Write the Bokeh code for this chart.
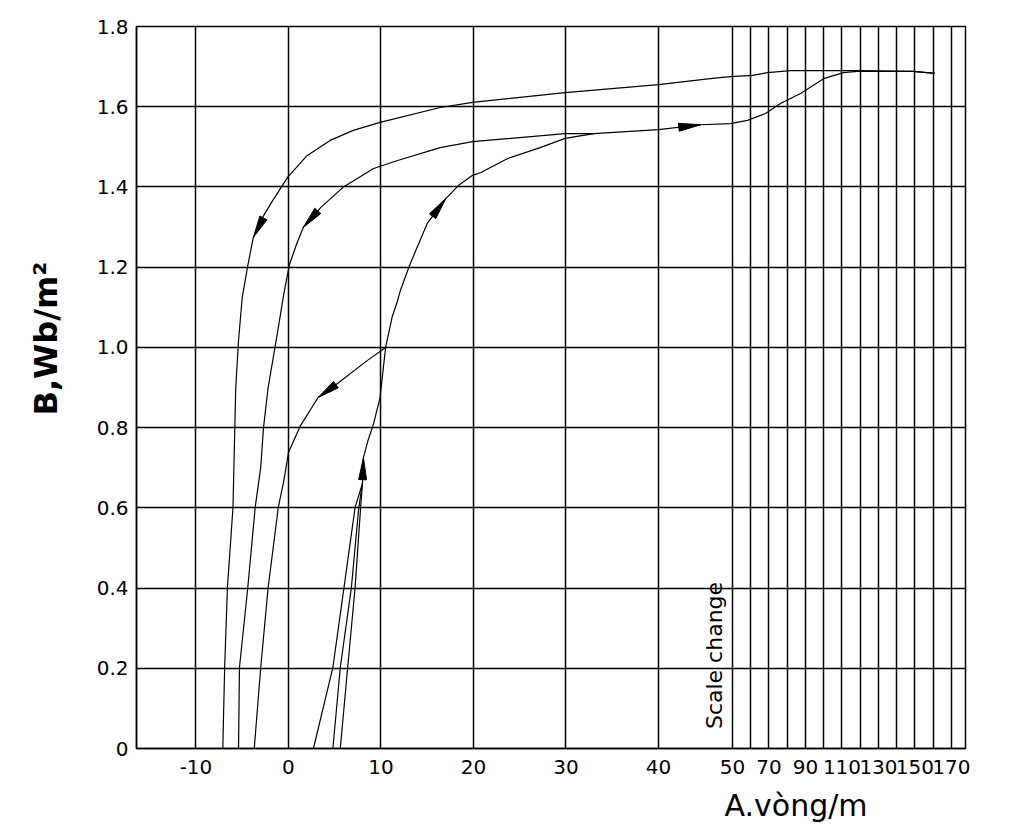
import numpy as np
from bokeh.plotting import figure
from bokeh.models import Range1d, FixedTicker, CustomJSTickFormatter, Label, Title
from bokeh.embed import file_html
from bokeh.resources import INLINE

# ---------------- data (H in A.vong/m, B in Wb/m^2) ----------------
outer_H = [161, 149, 118.5, 100, 81.8, 69.2, 61.0, 49.7, 47.0, 40.0, 29.9, 19.9, 16.4, 9.9, 7.0, 4.5,
           2.0, -0.1, -1.9, -2.8, -3.8, -4.4, -5.0, -5.4, -5.7, -5.9, -6.0, -6.6, -6.9, -7.1]
outer_B = [1.683, 1.688, 1.690, 1.690, 1.690, 1.685, 1.678, 1.675, 1.670, 1.655, 1.635, 1.611, 1.598,
           1.561, 1.541, 1.516, 1.478, 1.424, 1.359, 1.324, 1.274, 1.204, 1.124, 1.017, 0.900, 0.701,
           0.601, 0.401, 0.202, 0.0]

middle_H = [33.0, 29.9, 19.9, 16.4, 11.8, 9.2, 5.9, 3.5, 1.6, 0.9, 0.1, -0.5, -1.2, -2.2, -2.7, -3.0,
            -3.6, -4.4, -5.3, -5.4]
middle_B = [1.533, 1.533, 1.513, 1.498, 1.466, 1.446, 1.399, 1.349, 1.299, 1.259, 1.206, 1.134, 1.035,
            0.900, 0.800, 0.701, 0.601, 0.401, 0.202, 0.0]

minor_H = [10.5, 8.5, 5.3, 3.2, 1.3, 0.0, -0.5, -1.1, -2.2, -3.0, -3.7]
minor_B = [1.0, 0.967, 0.910, 0.875, 0.805, 0.738, 0.668, 0.601, 0.401, 0.202, 0.0]

rise_B = [0.0, 0.202, 0.401, 0.601, 0.661]
rise_a_H = [2.7, 4.8, 6.0, 7.2, 8.0]
rise_b_H = [4.8, 5.6, 6.8, 7.6, 8.0]
rise_c_H = [5.6, 6.4, 7.2, 7.8, 8.0]

ascend_H = [8.0, 8.1, 8.6, 9.2, 9.9, 10.5, 11.2, 11.8, 12.1, 13.0, 13.9, 15.0, 17.0, 18.4, 19.9, 20.8,
            23.7, 27.2, 29.9, 33.0, 40.0, 45.7, 49.7, 58.2, 68.1, 76.3, 87.3, 99.9, 110.8, 118.5, 149, 161]
ascend_B = [0.661, 0.725, 0.768, 0.81, 0.875, 1.0, 1.075, 1.117, 1.142, 1.199, 1.249, 1.309, 1.371,
            1.404, 1.429, 1.436, 1.471, 1.498, 1.521, 1.533, 1.543, 1.555, 1.558, 1.566, 1.583, 1.608,
            1.633, 1.670, 1.685, 1.688, 1.688, 1.683]

# arrows: (curve, tail index, tip index)
arrow_specs = [("outer", 18, 20), ("middle", 7, 8), ("minor", 2, 3),
               ("ascend", 0, 1), ("ascend", 11, 12), ("ascend", 20, 21)]

x_tick_H = [-10, 0, 10, 20, 30, 40, 50, 70, 90, 110, 130, 150, 170]
x_tick_labels = ["-10", "0", "10", "20", "30", "40", "50", "70", "90", "110", "130", "150", "170"]
x_grid_H = [-10, 0, 10, 20, 30, 40, 50, 60, 70, 80, 90, 100, 110, 120, 130, 140, 150, 160, 170]
y_ticks = [0, 0.2, 0.4, 0.6, 0.8, 1.0, 1.2, 1.4, 1.6, 1.8]
y_tick_labels = ["0", "0.2", "0.4", "0.6", "0.8", "1.0", "1.2", "1.4", "1.6", "1.8"]

x_title = "A.vòng/m"
y_title = "B,Wb/m²"
scale_note = "Scale change"

# ---------------- axis scale (scale change) ----------------
BREAK_H = [-100, 40, 50, 300]
BREAK_U = [-100, 40, 48, 48 + 250 * 0.19726]


def to_u(h):
    return np.interp(np.asarray(h, dtype=float), BREAK_H, BREAK_U)


X0, X1 = float(to_u(-16.43)), float(to_u(177.7))
Y0, Y1 = 0.0, 1.8

ML, MR, MT, MB = 136, 40, 26, 89
FW, FH = 829, 722
SX = FW / (X1 - X0)
SY = FH / (Y1 - Y0)

p = figure(frame_width=FW, frame_height=FH, output_backend="svg", toolbar_location=None,
           x_range=Range1d(X0, X1), y_range=Range1d(Y0, Y1),
           min_border_left=ML, min_border_right=MR, min_border_top=MT, min_border_bottom=MB,
           background_fill_color="white", border_fill_color="white")
p.outline_line_color = "black"
p.outline_line_width = 1.5

# grid
p.xgrid.ticker = FixedTicker(ticks=[float(v) for v in to_u(x_grid_H)])
p.ygrid.ticker = FixedTicker(ticks=y_ticks)
for g in (p.xgrid, p.ygrid):
    g.grid_line_color = "black"
    g.grid_line_width = 1.5
    g.grid_line_alpha = 1.0

# axes
tick_u = [float(v) for v in to_u(x_tick_H)]
p.xaxis.ticker = FixedTicker(ticks=tick_u)
p.xaxis.formatter = CustomJSTickFormatter(args=dict(us=tick_u, labels=x_tick_labels), code="""
let b = 0;
for (let i = 0; i < us.length; i++) { if (Math.abs(us[i] - tick) < Math.abs(us[b] - tick)) b = i; }
return labels[b];
""")
p.yaxis.ticker = FixedTicker(ticks=y_ticks)
p.yaxis.formatter = CustomJSTickFormatter(args=dict(vs=y_ticks, labels=y_tick_labels), code="""
let b = 0;
for (let i = 0; i < vs.length; i++) { if (Math.abs(vs[i] - tick) < Math.abs(vs[b] - tick)) b = i; }
return labels[b];
""")
for ax in (p.xaxis, p.yaxis):
    ax.major_tick_in = 0
    ax.major_tick_out = 0
    ax.minor_tick_in = 0
    ax.minor_tick_out = 0
    ax.axis_line_color = "black"
    ax.axis_line_width = 1.5
    ax.major_label_text_font = "DejaVu Sans"
    ax.major_label_text_font_size = "20px"
    ax.major_label_text_color = "black"
p.xaxis.major_label_standoff = 11
p.yaxis.major_label_standoff = 8

# y title (left side, shifted upward and outward as in the reference)
p.add_layout(Title(text=y_title, align="left", offset=333, standoff=53, vertical_align="top",
                   text_font="DejaVu Sans", text_font_size="32px",
                   text_font_style="bold", text_color="black"), "left")

# x title, offset toward the right as in the reference
p.add_layout(Title(text=x_title, align="left", offset=588, standoff=19, vertical_align="bottom",
                   text_font="DejaVu Sans", text_font_size="30px",
                   text_font_style="normal", text_color="black"), "below")

# curves
curves = {
    "outer": (outer_H, outer_B),
    "middle": (middle_H, middle_B),
    "minor": (minor_H, minor_B),
    "ascend": (ascend_H, ascend_B),
}
for hs, bs in list(curves.values()) + [(rise_a_H, rise_B), (rise_b_H, rise_B), (rise_c_H, rise_B)]:
    p.line(x=to_u(hs), y=bs, line_color="black", line_width=1.2)

# arrowheads (long thin triangles)
HEAD_L, HEAD_W = 22.0, 8.0
xs_list, ys_list = [], []
for name, i0, i1 in arrow_specs:
    hs, bs = curves[name]
    tx, ty = float(to_u(hs[i1])) * SX, bs[i1] * SY
    sx0, sy0 = float(to_u(hs[i0])) * SX, bs[i0] * SY
    d = np.array([tx - sx0, ty - sy0])
    d = d / np.hypot(*d)
    n = np.array([-d[1], d[0]])
    base = np.array([tx, ty]) - HEAD_L * d
    pts = [np.array([tx, ty]), base + n * HEAD_W / 2, base - n * HEAD_W / 2]
    xs_list.append([pt[0] / SX for pt in pts])
    ys_list.append([pt[1] / SY for pt in pts])
p.patches(xs=xs_list, ys=ys_list, fill_color="black", line_color="black", line_width=1)

# "Scale change" note inside the frame (canvas position 714, 655)
p.add_layout(Label(x=X0 + (714 - ML) / SX, y=Y1 - (655 - MT) / SY, text=scale_note,
                   angle=np.pi / 2, text_align="center", text_baseline="middle",
                   text_font="DejaVu Sans", text_font_size="22px", text_color="black"))

open("out.html", "w").write(file_html(p, INLINE))
